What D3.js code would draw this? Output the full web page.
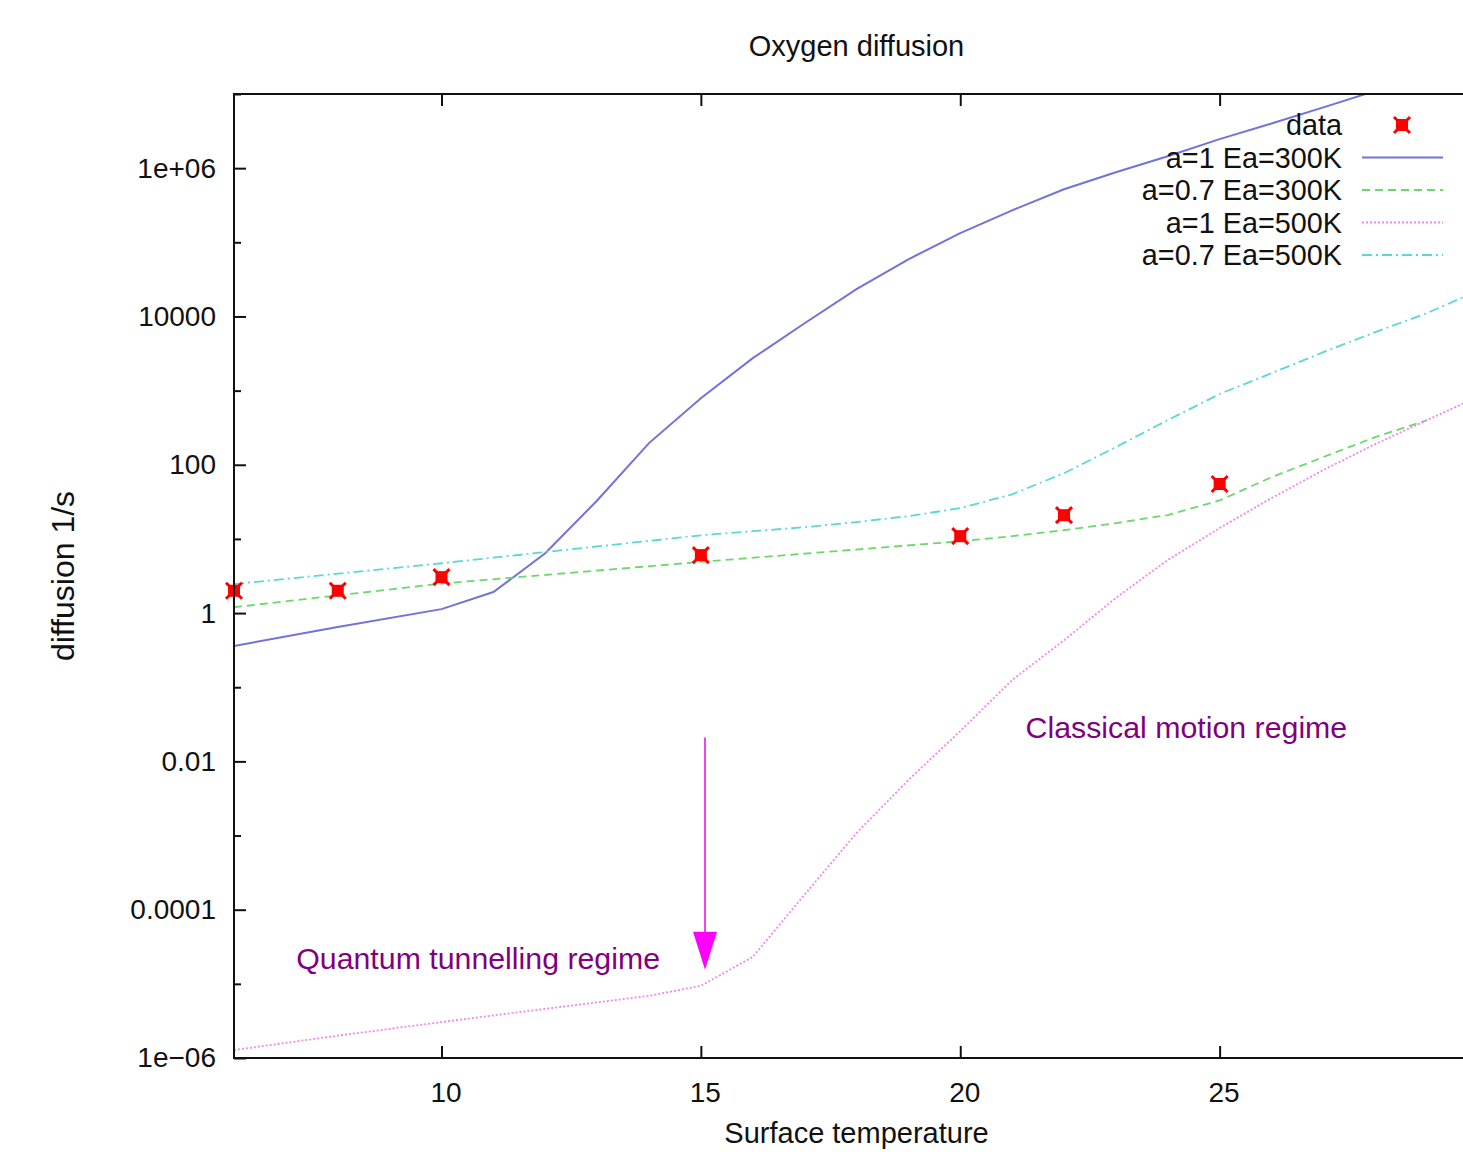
<!DOCTYPE html>
<html lang="en">
<head>
<meta charset="UTF-8">
<title>Oxygen diffusion</title>
<script src="https://d3js.org/d3.v7.min.js"></script>
<style>
    body { margin: 0; background: #fff; overflow: hidden; }
    svg { display: block; font-family: "Liberation Sans", Arial, Helvetica, sans-serif; }
</style>
</head>
<body>
<script>
    const WIDTH = 1463, HEIGHT = 1152;
    const LEFT = 234, TOP = 94, BOTTOM = 1058, RIGHT = 1479;

    // measured points
    const dataT = [6, 8, 10, 15, 20, 22, 25];
    const dataV = [2.0, 2.0, 3.05, 6.05, 10.9, 20.9, 55];

    // a=1 Ea=300K
    const blueT = [6, 8, 10, 11, 12, 13, 14, 15, 16, 17, 18, 19, 20, 21, 22, 23, 24, 25, 26, 27, 28];
    const blueV = [0.36, 0.65, 1.13, 1.92, 6.4, 33, 196, 790, 2740, 8100, 23300, 59000, 1.33e5, 2.7e5,
                   5.2e5, 8.8e5, 1.45e6, 2.46e6, 4.0e6, 6.6e6, 1.1e7];
    // a=0.7 Ea=300K
    const greenT = [6, 10, 15, 20, 21, 22, 23, 24, 25, 26, 27, 28, 29];
    const greenV = [1.2, 2.5, 4.9, 9.3, 10.9, 13.1, 16.3, 21, 33, 68, 127, 236, 400];
    // a=1 Ea=500K
    const pinkT = [6, 8, 10, 12, 14, 15, 16, 17, 18, 19, 20, 21, 22, 23, 24, 25, 26, 27, 28, 29, 30];
    const pinkV = [1.28e-6, 2.0e-6, 3.05e-6, 4.6e-6, 6.9e-6, 9.4e-6, 2.3e-5, 1.6e-4, 1.08e-3, 5.6e-3,
                   0.0256, 0.125, 0.43, 1.6, 5.2, 14, 35.5, 85, 190, 400, 840];
    // a=0.7 Ea=500K
    const cyanT = [6, 10, 15, 16, 17, 18, 19, 20, 21, 22, 23, 24, 25, 26, 27, 28, 29, 30];
    const cyanV = [2.46, 4.7, 11.2, 12.7, 14.4, 16.9, 20.3, 26, 40, 77, 173, 400, 900, 1720, 3300,
                   6150, 11100, 22600];

    const seriesNames = ["a=1 Ea=300K", "a=0.7 Ea=300K", "a=1 Ea=500K", "a=0.7 Ea=500K"];
    const seriesT = [blueT, greenT, pinkT, cyanT];
    const seriesV = [blueV, greenV, pinkV, cyanV];

    const xTicks = [10, 15, 20, 25];
    const yMajor = [1e-6, 1e-4, 1e-2, 1, 1e2, 1e4, 1e6];
    const yMajorLabels = ["1e\u221206", "0.0001", "0.01", "1", "100", "10000", "1e+06"];
    const yMinor = [1e-5, 1e-3, 1e-1, 1e1, 1e3, 1e5, 1e7];

    const styles = [
        {color: "#7272da", width: 2, dash: null},
        {color: "#6cd86c", width: 1.8, dash: "8,5"},
        {color: "#ee88ee", width: 1.8, dash: "2,2"},
        {color: "#5ad8d8", width: 1.8, dash: "10,4,2,4"}
    ];

    const x = d3.scaleLinear().domain([6, 30]).range([LEFT, RIGHT]);
    const y = d3.scaleLog().domain([1e-6, 1e7]).range([BOTTOM, TOP]);

    const svg = d3.select("body").append("svg").attr("width", WIDTH).attr("height", HEIGHT);

    svg.append("clipPath").attr("id", "plot")
        .append("rect").attr("x", LEFT).attr("y", TOP)
        .attr("width", RIGHT - LEFT).attr("height", BOTTOM - TOP);

    // axes (ticks point inward)
    svg.append("g").attr("transform", `translate(${LEFT},0)`)
        .call(d3.axisLeft(y).tickValues(yMajor).tickSize(-12).tickPadding(18)
            .tickFormat((d, i) => yMajorLabels[i]));
    svg.append("g").attr("transform", `translate(${LEFT},0)`)
        .call(d3.axisLeft(y).tickValues(yMinor).tickSize(-7).tickFormat(""));
    svg.append("g").attr("transform", `translate(${RIGHT},0)`)
        .call(d3.axisRight(y).tickValues(yMajor).tickSize(-12).tickFormat(""));
    const xAxis = svg.append("g").attr("transform", `translate(0,${BOTTOM})`)
        .call(d3.axisBottom(x).tickValues(xTicks).tickSize(-12).tickPadding(24).tickFormat(d3.format("d")));
    xAxis.selectAll("text").attr("dx", 4);
    svg.append("g").attr("transform", `translate(0,${TOP})`)
        .call(d3.axisTop(x).tickValues(xTicks).tickSize(-12).tickFormat(""));

    svg.selectAll(".domain").remove();
    svg.selectAll(".tick line").attr("stroke", "#111").attr("stroke-width", 2);
    svg.selectAll(".tick text").attr("font-size", 28).attr("fill", "#111")
        .attr("font-family", "Liberation Sans, Arial, sans-serif");

    // curves
    const line = d3.line().x(d => x(d[0])).y(d => y(d[1]));
    const curves = svg.append("g").attr("clip-path", "url(#plot)");
    seriesT.forEach((ts, i) => {
        const pts = ts.map((t, j) => [t, seriesV[i][j]]);
        curves.append("path").datum(pts)
            .attr("d", line)
            .attr("fill", "none")
            .attr("stroke", styles[i].color)
            .attr("stroke-width", styles[i].width)
            .attr("stroke-dasharray", styles[i].dash);
    });

    function marker(g, cx, cy) {
        const m = g.append("g").attr("transform", `translate(${cx},${cy})`);
        m.append("rect").attr("x", -6).attr("y", -6).attr("width", 12).attr("height", 12).attr("fill", "#f00");
        m.append("path").attr("d", "M-8,-8L8,8M-8,8L8,-8").attr("stroke", "#f00").attr("stroke-width", 3);
    }
    dataT.forEach((t, i) => marker(svg, x(t), y(dataV[i])));

    // frame
    svg.append("rect").attr("x", LEFT).attr("y", TOP)
        .attr("width", RIGHT - LEFT).attr("height", BOTTOM - TOP)
        .attr("fill", "none").attr("stroke", "#111").attr("stroke-width", 2);

    // legend
    const legendNames = ["data"].concat(seriesNames);
    const lg = svg.append("g");
    legendNames.forEach((name, i) => {
        const ly = 125 + i * 32.5;
        lg.append("text").attr("x", 1342).attr("y", ly).attr("dy", "0.35em")
            .attr("text-anchor", "end").attr("font-size", 28.8).attr("fill", "#111").text(name);
        if (i === 0) {
            marker(lg, 1402, ly);
        } else {
            const s = styles[i - 1];
            lg.append("line").attr("x1", 1362).attr("x2", 1443).attr("y1", ly).attr("y2", ly)
                .attr("stroke", s.color).attr("stroke-width", s.width).attr("stroke-dasharray", s.dash);
        }
    });

    // arrow
    const ax = x(15.08), ay0 = y(0.021), ay1 = y(1.55e-5);
    svg.append("line").attr("x1", ax).attr("x2", ax).attr("y1", ay0).attr("y2", ay1 - 36)
        .attr("stroke", "#ee44ee").attr("stroke-width", 2);
    svg.append("path")
        .attr("d", `M${ax - 12},${ay1 - 38}L${ax + 12},${ay1 - 38}L${ax},${ay1}Z`)
        .attr("fill", "#ff00ff");

    // annotations
    svg.append("text").attr("x", x(7.2)).attr("y", y(1.6e-5)).attr("font-size", 30.3)
        .attr("fill", "#800080").text("Quantum tunnelling regime");
    svg.append("text").attr("x", x(21.26)).attr("y", y(0.0206)).attr("font-size", 30.3)
        .attr("fill", "#800080").text("Classical motion regime");

    // titles
    svg.append("text").attr("x", (LEFT + RIGHT) / 2).attr("y", 56).attr("text-anchor", "middle")
        .attr("font-size", 29).attr("fill", "#111").text("Oxygen diffusion");
    svg.append("text").attr("x", (LEFT + RIGHT) / 2).attr("y", 1143).attr("text-anchor", "middle")
        .attr("font-size", 29).attr("fill", "#111").text("Surface temperature");
    svg.append("text").attr("transform", "translate(74,576) rotate(-90)").attr("text-anchor", "middle")
        .attr("font-size", 32).attr("fill", "#111").text("diffusion 1/s");
</script>
</body>
</html>
